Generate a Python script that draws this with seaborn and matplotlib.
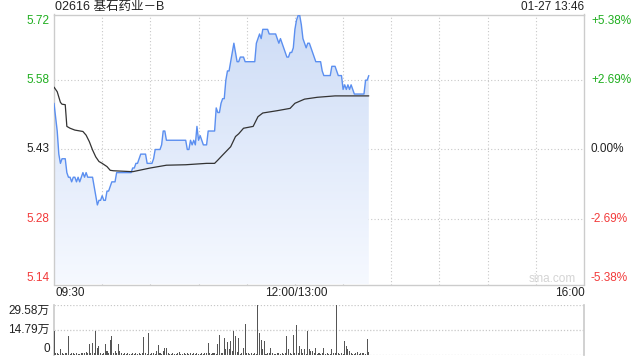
import numpy as np
import pandas as pd
import matplotlib
matplotlib.use("Agg")
import matplotlib.pyplot as plt
import seaborn as sns
from matplotlib.colors import LinearSegmentedColormap

# ---------------- data ----------------
title = "02616 基石药业－B"
stamp = "01-27 13:46"
prev_close = 5.43
price_ticks = [5.72, 5.58, 5.43, 5.28, 5.14]
pct_ticks = ["+5.38%", "+2.69%", "0.00%", "-2.69%", "-5.38%"]
time_labels = ["09:30", "12:00/13:00", "16:00"]
vol_ticks = [0, 14.79, 29.58]
vol_labels = ["0", "14.79万", "29.58万"]

price = [
    5.53, 5.50, 5.47, 5.42, 5.40, 5.41, 5.41, 5.41, 5.38, 5.37,
    5.37, 5.36, 5.37, 5.37, 5.36, 5.37, 5.36, 5.37, 5.38, 5.37,
    5.38, 5.37, 5.37, 5.37, 5.37, 5.35, 5.33, 5.31, 5.32, 5.32,
    5.33, 5.32, 5.32, 5.34, 5.34, 5.35, 5.36, 5.36, 5.36, 5.38,
    5.38, 5.38, 5.38, 5.38, 5.38, 5.38, 5.38, 5.38, 5.38, 5.39,
    5.39, 5.40, 5.40, 5.41, 5.42, 5.42, 5.42, 5.42, 5.40, 5.40,
    5.40, 5.40, 5.41, 5.43, 5.43, 5.43, 5.43, 5.44, 5.47, 5.47,
    5.45, 5.45, 5.45, 5.45, 5.45, 5.45, 5.45, 5.45, 5.45, 5.45,
    5.45, 5.45, 5.45, 5.43, 5.43, 5.45, 5.44, 5.45, 5.44, 5.48,
    5.45, 5.46, 5.45, 5.44, 5.44, 5.44, 5.47, 5.47, 5.47, 5.47,
    5.47, 5.52, 5.51, 5.51, 5.53, 5.54, 5.54, 5.58, 5.60, 5.60,
    5.62, 5.64, 5.66, 5.64, 5.62, 5.62, 5.63, 5.63, 5.63, 5.62,
    5.62, 5.62, 5.62, 5.62, 5.62, 5.62, 5.66, 5.67, 5.68, 5.67,
    5.69, 5.69, 5.69, 5.69, 5.68, 5.68, 5.68, 5.68, 5.68, 5.67,
    5.66, 5.67, 5.66, 5.65, 5.64, 5.63, 5.63, 5.64, 5.64, 5.65,
    5.69, 5.71, 5.72, 5.72, 5.70, 5.67, 5.66, 5.65, 5.66, 5.66,
    5.65, 5.64, 5.63, 5.62, 5.62, 5.62, 5.62, 5.60, 5.59, 5.59,
    5.59, 5.59, 5.59, 5.61, 5.61, 5.61, 5.60, 5.59, 5.59, 5.59,
    5.56, 5.57, 5.56, 5.57, 5.56, 5.57, 5.56, 5.55, 5.55, 5.55,
    5.55, 5.55, 5.55, 5.55, 5.58, 5.58, 5.59,
]

avg_minute = [0, 2, 4, 5, 7, 8, 10, 13, 18, 20, 22, 24, 26, 28, 30, 33, 35, 37,
              49, 60, 70, 82, 95, 100, 102, 105, 110, 113, 115, 118, 124, 127,
              130, 139, 147, 150, 156, 164, 175, 196]
avg_price = [5.565, 5.555, 5.532, 5.528, 5.527, 5.480, 5.476, 5.472, 5.469, 5.461,
             5.447, 5.429, 5.414, 5.404, 5.400, 5.393, 5.385, 5.384,
             5.382, 5.390, 5.396, 5.397, 5.400, 5.400, 5.407, 5.418, 5.436,
             5.458, 5.464, 5.476, 5.480, 5.501, 5.509, 5.514, 5.519, 5.530,
             5.539, 5.543, 5.546, 5.546]

volume = [  # 万 shares per minute
    14, 0.6, 1, 0.5, 3, 0.8, 0.4, 0.6, 0.9, 11,
    0.5, 0.7, 1, 0.4, 0.6, 0.3, 0.5, 0.8, 0.6, 1,
    1.5, 0.6, 6.4, 1, 7, 0.8, 14, 4, 5, 0.7,
    0.5, 0.9, 6.4, 2, 0.6, 8.5, 11, 1, 2, 0.6,
    6.4, 2, 0.8, 0.5, 1, 0.4, 0.7, 0.5, 0.3, 0.6,
    0.5, 0.8, 0.4, 0.6, 0.5, 0.7, 10.5, 0.6, 0.4, 13,
    0.5, 0.6, 1, 0.4, 2, 5.6, 0.8, 0.5, 2, 4,
    3.6, 0.6, 0.4, 0.5, 0.7, 0.3, 0.5, 0.6, 1.5, 0.4,
    0.5, 0.8, 0.4, 0.6, 0.5, 0.7, 0.4, 0.9, 0.5, 0.6,
    0.4, 0.5, 0.7, 0.3, 0.6, 0.8, 7, 1, 0.5, 0.6,
    0.8, 0.5, 6, 11.6, 0.7, 0.9, 10, 3, 7.7, 3,
    7.9, 2, 14, 11, 1.5, 10, 0.5, 0.6, 4, 18,
    1, 0.6, 0.5, 1, 0.4, 0.7, 0.5, 29.58, 13, 8.5,
    3, 8, 0.5, 0.6, 0.8, 3.6, 1, 0.5, 0.4, 1,
    0.6, 0.5, 0.7, 0.4, 0.8, 11, 3, 0.6, 0.5, 11.6,
    0.7, 17.7, 0.8, 5, 3, 0.6, 3, 0.5, 14, 3,
    2, 2, 0.6, 4, 0.5, 0.7, 0.4, 1, 4, 0.5,
    0.6, 0.4, 0.5, 3, 0.6, 0.8, 29.5, 0.7, 0.5, 0.6,
    0.4, 8, 5, 3, 2, 0.6, 0.5, 0.4, 0.7, 1.5,
    0.5, 1, 0.6, 1, 0.5, 9, 1.5,
]

minute = list(range(len(price)))
df = pd.DataFrame({"minute": minute, "price": price, "volume": volume})
avg_df = pd.DataFrame({"minute": avg_minute, "avg": avg_price})

# ---------------- style ----------------
sns.set_theme(style="white")
plt.rcParams["font.family"] = ["Liberation Sans", "Noto Sans CJK SC", "DejaVu Sans"]

GREEN = "#1fae1f"
RED = "#f23a3a"
GRAY_TXT = "#222222"
SPINE = "#cccccc"
GRID = "#c8c8c8"
BLUE = "#5b8ff0"

W, H = 640, 360
fig = plt.figure(figsize=(6.4, 3.6), dpi=100)
fig.patch.set_facecolor("white")

def fx(px):
    return px / W

def fy(py):
    return 1 - py / H

ax = fig.add_axes([fx(54), fy(284.5), fx(584) - fx(54), fy(14.5) - fy(284.5)])
axv = fig.add_axes([fx(54), fy(354.5), fx(584) - fx(54), fy(305) - fy(354.5)])

lo = prev_close * (1 - 0.0538)
hi = prev_close * (1 + 0.0538)
ax.set_xlim(0, 330)
ax.set_ylim(lo, hi)
axv.set_xlim(0, 330)
axv.set_ylim(0, 29.58)

# gradient fill under the price line
poly = ax.fill_between(df["minute"], df["price"], lo, color="none", lw=0)
cmap = LinearSegmentedColormap.from_list("g", ["#f6f9ff", "#cddcf6"])
grad = np.linspace(0, 1, 256).reshape(-1, 1)
im = ax.imshow(grad, cmap=cmap, aspect="auto", origin="lower",
               extent=[0, len(price) - 1, lo, hi], zorder=1)
path = poly.get_paths()[0]
im.set_clip_path(path, transform=ax.transData)

sns.lineplot(data=df, x="minute", y="price", ax=ax, color=BLUE, lw=1.0, zorder=3)
sns.lineplot(data=avg_df, x="minute", y="avg", ax=ax, color="#333333", lw=0.9, zorder=4)

# grid
for t in range(30, 330, 30):
    ax.axvline(t, color=GRID, lw=0.8, ls=(0, (1, 2)), zorder=0)
for p in price_ticks[1:-1]:
    ax.axhline(p, color=GRID, lw=0.8, ls=(0, (1, 2)), zorder=0)
for s in ax.spines.values():
    s.set_color(SPINE)
    s.set_linewidth(1.0)

ax.set_xlabel("")
ax.set_ylabel("")
ax.set_xticks([])
ax.set_yticks(price_ticks)
ax.set_yticklabels([f"{p:.2f}" for p in price_ticks])
ax.tick_params(axis="y", length=0, pad=3, labelsize=8.5)
cols = [GREEN, GREEN, GRAY_TXT, RED, RED]
vas = ["top", "center", "center", "center", "bottom"]
for lab, c, va in zip(ax.get_yticklabels(), cols, vas):
    lab.set_color(c)
    lab.set_va(va)

# right percent labels
axr = ax.twinx()
axr.set_ylim(lo, hi)
axr.set_yticks(price_ticks)
axr.set_yticklabels(pct_ticks)
axr.tick_params(axis="y", length=0, pad=5, labelsize=8.5)
for lab, c, va in zip(axr.get_yticklabels(), cols, vas):
    lab.set_color(c)
    lab.set_va(va)
for s in axr.spines.values():
    s.set_visible(False)
axr.grid(False)

# time labels
fig.text(fx(55), fy(293), time_labels[0], ha="left", va="center", fontsize=8.5, color=GRAY_TXT)
fig.text(fx(296), fy(293), time_labels[1], ha="center", va="center", fontsize=8.5, color=GRAY_TXT)
fig.text(fx(585), fy(293), time_labels[2], ha="right", va="center", fontsize=8.5, color=GRAY_TXT)

# title / stamp
fig.text(fx(55), fy(7), title, ha="left", va="center", fontsize=9,
         color=GRAY_TXT, family=["Liberation Sans", "Noto Sans CJK SC", "DejaVu Sans"])
fig.text(fx(584), fy(7), stamp, ha="right", va="center", fontsize=8.5, color=GRAY_TXT)

# watermark
ax.text(0.94, 0.02, "sina.com", transform=ax.transAxes, ha="center", va="center",
        fontsize=8.5, color="#d4d4d4", zorder=5)

# volume
axv.bar(df["minute"], df["volume"], width=0.65, color="#555555", lw=0, zorder=3)
for v in vol_ticks:
    axv.axhline(v, color=GRID, lw=0.9, ls=(0, (1, 1.5)), zorder=0)
axv.spines["top"].set_visible(False)
axv.spines["bottom"].set_visible(False)
axv.spines["left"].set_color(SPINE)
axv.spines["right"].set_color(SPINE)
axv.set_xticks([])
axv.set_yticks(vol_ticks)
axv.set_yticklabels(vol_labels)
axv.tick_params(axis="y", length=0, pad=3, labelsize=8.5, labelcolor=GRAY_TXT)
for lab, va in zip(axv.get_yticklabels(), ["bottom", "center", "top"]):
    lab.set_va(va)
    lab.set_family(["Liberation Sans", "Noto Sans CJK SC", "DejaVu Sans"])
axv.set_xlabel("")
axv.set_ylabel("")

fig.savefig("out.png", dpi=100, facecolor="white")
